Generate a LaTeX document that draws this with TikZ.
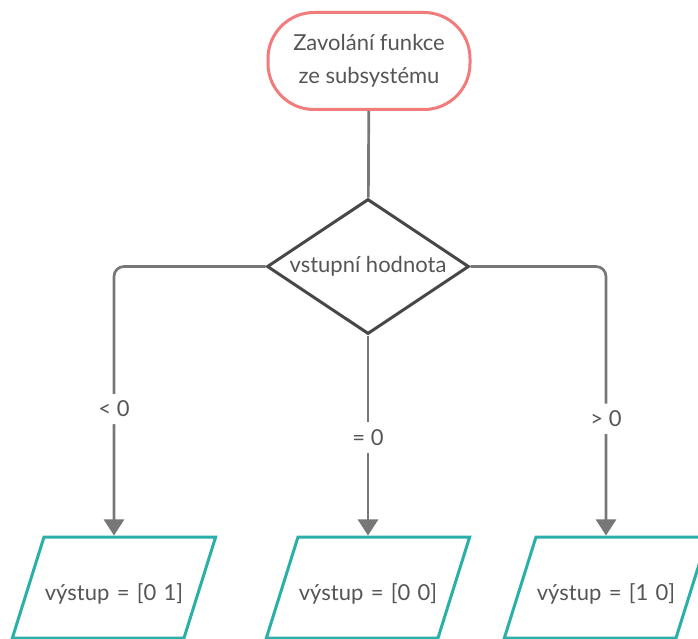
\documentclass[tikz,border=0pt]{standalone}
\usepackage{fontspec}
\setmainfont{Lato}
\usetikzlibrary{shapes,arrows.meta}
\definecolor{startred}{HTML}{F27B7B}
\definecolor{diagray}{HTML}{474747}
\definecolor{outteal}{HTML}{2AAFA9}
\definecolor{linegray}{HTML}{777777}
\definecolor{textgray}{HTML}{555555}

\begin{document}
\begin{tikzpicture}[x=1pt, y=1pt, thick]
\tikzstyle{vertexs}=[rectangle, rounded corners=46pt, draw=startred, line width=3pt, minimum width=202pt, minimum height=97pt, align=center, text=textgray, font=\fontsize{22}{33}\selectfont]
\tikzstyle{vertexd}=[diamond, aspect=1.5, draw=diagray, line width=3pt, minimum width=202pt, minimum height=135pt, inner sep=0pt, text=textgray, font=\fontsize{22}{26}\selectfont]
\tikzstyle{vertexp}=[trapezium, trapezium left angle=72.6, trapezium right angle=107.4, draw=outteal, line width=3pt, text width=140pt, align=center, text height=25pt, text depth=-2pt, inner xsep=0pt, inner ysep=38pt, text=textgray, font=\fontsize{22}{26}\selectfont]
\tikzstyle{drawstyle}=[draw=linegray, line width=2.7pt, -{Triangle[width=20pt, length=16pt]}]
\tikzstyle{labelstyle}=[fill=white, inner sep=7pt, text=textgray, font=\fontsize{22}{26}\selectfont]

\useasboundingbox (0,0) rectangle (698,-639);

\node[vertexs] (G1x0) at (369,-61) {Zavolání funkce\\ze subsystému};
\node[vertexd] (G1x1) at (368,-266.5) {vstupní hodnota};
\draw[drawstyle, -] (G1x0) -- (G1x1);
\node[vertexp] (G0x2) at (114,-587.5) {výstup = [0 1]};
\node[vertexp] (G1x2) at (368,-587.5) {výstup = [0 0]};
\node[vertexp] (G2x2) at (606,-587.5) {výstup = [1 0]};
\draw[drawstyle, rounded corners=10pt] (G1x1.west) -| node[labelstyle, pos=0.765] (L0) {< 0} (G0x2.north);
\draw[drawstyle] (G1x1.south) -- node[labelstyle, pos=0.51] (L1) {= 0} (G1x2.north);
\draw[drawstyle, rounded corners=10pt] (G1x1.east) -| node[labelstyle, pos=0.783] (L2) {> 0} (G2x2.north);
\end{tikzpicture}
\end{document}
